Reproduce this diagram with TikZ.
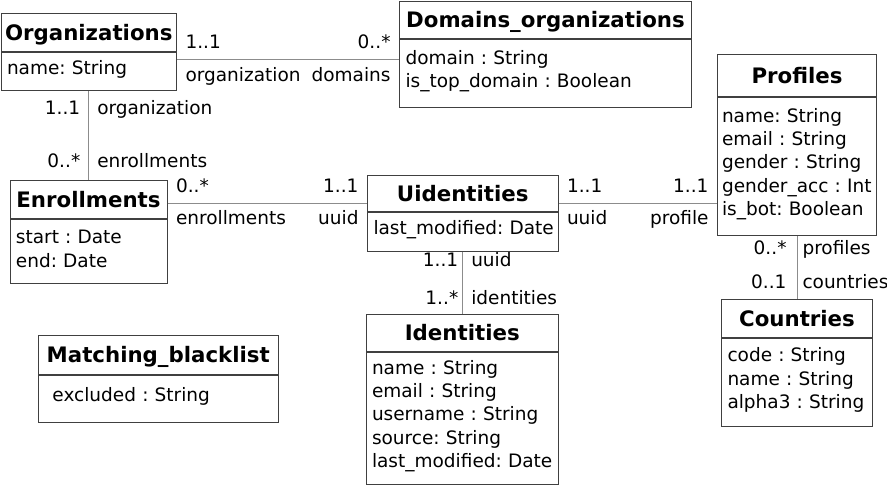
\documentclass[tikz,border=0pt]{standalone}
\usepackage{fontspec}
\setmainfont{DejaVu Sans}
\frenchspacing
\definecolor{boxline}{gray}{0.25}
\definecolor{assocline}{gray}{0.55}

\begin{document}
\begin{tikzpicture}[x=1pt, y=-1pt,
    title/.style={draw=boxline, line width=1pt, anchor=north west, inner sep=0pt,
        font=\fontsize{21.3}{25}\selectfont\bfseries, text height=15.5pt, text depth=0pt},
    attrs/.style={draw=boxline, line width=1pt, anchor=north, inner xsep=6pt, inner ysep=0pt,
        font=\fontsize{18.5}{23.3}\selectfont\frenchspacing, align=left,
        execute at end node=\vspace{5pt}},
    assoc/.style={draw=assocline, line width=1pt},
    lbl/.style={font=\fontsize{18.5}{22}\selectfont, inner xsep=8pt, inner ysep=6pt,
        text height=13pt, text depth=4pt}]
    \useasboundingbox (0,0) rectangle (887,485);

    % classes
    \node[title, minimum width=175.5pt, minimum height=38pt] (org) at (0.5,13) {Organizations};
    \node[attrs, text width=163.5pt, minimum height=38pt] (orgattr) at (org.south) {name: String};

    \node[title, minimum width=292pt, minimum height=37pt] (dom) at (399,1) {Domains\_organizations};
    \node[attrs, text width=280pt, minimum height=68pt] (domattr) at (dom.south) {domain : String\\is\_top\_domain : Boolean};

    \node[title, minimum width=159pt, minimum height=42pt] (prof) at (717,54) {Profiles};
    \node[attrs, inner xsep=4.5pt, text width=150pt, minimum height=138pt] (profattr) at (prof.south) {name: String\\email : String\\gender : String\\\mbox{gender\_acc : Int}\\is\_bot: Boolean};

    \node[title, minimum width=190.5pt, minimum height=36.5pt] (uid) at (367,174.5) {Uidentities};
    \node[attrs, text width=178.5pt, minimum height=38.5pt] (uidattr) at (uid.south) {\mbox{last\_modified: Date}};

    \node[title, minimum width=157pt, minimum height=38pt] (enr) at (9.5,180) {Enrollments};
    \node[attrs, text width=145pt, minimum height=64pt] (enrattr) at (enr.south) {start : Date\\end: Date};

    \node[title, minimum width=192.5pt, minimum height=37.5pt] (ident) at (365.5,313.5) {Identities};
    \node[attrs, text width=180.5pt, minimum height=132pt] (identattr) at (ident.south) {name : String\\email : String\\username : String\\source: String\\\mbox{last\_modified: Date}};

    \node[title, minimum width=239.5pt, minimum height=39pt] (match) at (38,334.5) {Matching\_blacklist};
    \node[attrs, text width=227.5pt, minimum height=47pt] (matchattr) at (match.south) {\hspace*{8pt}excluded : String};

    \node[title, minimum width=151pt, minimum height=38.5pt] (ctry) at (721,298.5) {Countries};
    \node[attrs, text width=139pt, minimum height=88pt] (ctryattr) at (ctry.south) {code : String\\name : String\\alpha3 : String};

    % associations
    \draw[assoc] (orgattr.east |- 0,59.3) -- (domattr.west |- 0,59.3)
        node[lbl, pos=0, above right] {1..1}
        node[lbl, pos=0, below right, yshift=-3pt] {organization}
        node[lbl, pos=1, above left] {0..*}
        node[lbl, pos=1, below left, yshift=-3pt] {domains};
    \draw[assoc] (orgattr.south) -- (orgattr.south |- enr.north)
        node[lbl, pos=0, anchor=base east, yshift=-23pt] {1..1}
        node[lbl, pos=0, anchor=base west, yshift=-23pt] {organization}
        node[lbl, pos=1, anchor=base east, yshift=13pt] {0..*}
        node[lbl, pos=1, anchor=base west, yshift=13pt] {enrollments};
    \draw[assoc] (enr.east |- 0,203.3) -- (uid.west |- 0,203.3)
        node[lbl, pos=0, above right] {0..*}
        node[lbl, pos=0, below right, yshift=-1.5pt] {enrollments}
        node[lbl, pos=1, above left] {1..1}
        node[lbl, pos=1, below left, yshift=-1.5pt] {uuid};
    \draw[assoc] (uid.east |- 0,203.3) -- (profattr.west |- 0,203.3)
        node[lbl, pos=0, above right] {1..1}
        node[lbl, pos=0, below right, yshift=-1.5pt] {uuid}
        node[lbl, pos=1, above left] {1..1}
        node[lbl, pos=1, below left, yshift=-1.5pt] {profile};
    \draw[assoc] (uidattr.south) -- (uidattr.south |- ident.north)
        node[lbl, pos=0, anchor=base east, xshift=4pt, yshift=-15pt] {1..1}
        node[lbl, pos=0, anchor=base west, yshift=-15pt] {uuid}
        node[lbl, pos=1, anchor=base east, xshift=4pt, yshift=9pt] {1..*}
        node[lbl, pos=1, anchor=base west, yshift=9pt] {identities};
    \draw[assoc] (profattr.south) -- (profattr.south |- ctry.north)
        node[lbl, pos=0, anchor=base east, xshift=-2pt, yshift=-18.7pt] {0..*}
        node[lbl, pos=0, anchor=base west, xshift=-3pt, yshift=-18.7pt] {profiles}
        node[lbl, pos=1, anchor=base east, xshift=-2pt, yshift=10pt] {0..1}
        node[lbl, pos=1, anchor=base west, xshift=-3pt, yshift=10pt] {countries};
\end{tikzpicture}
\end{document}
